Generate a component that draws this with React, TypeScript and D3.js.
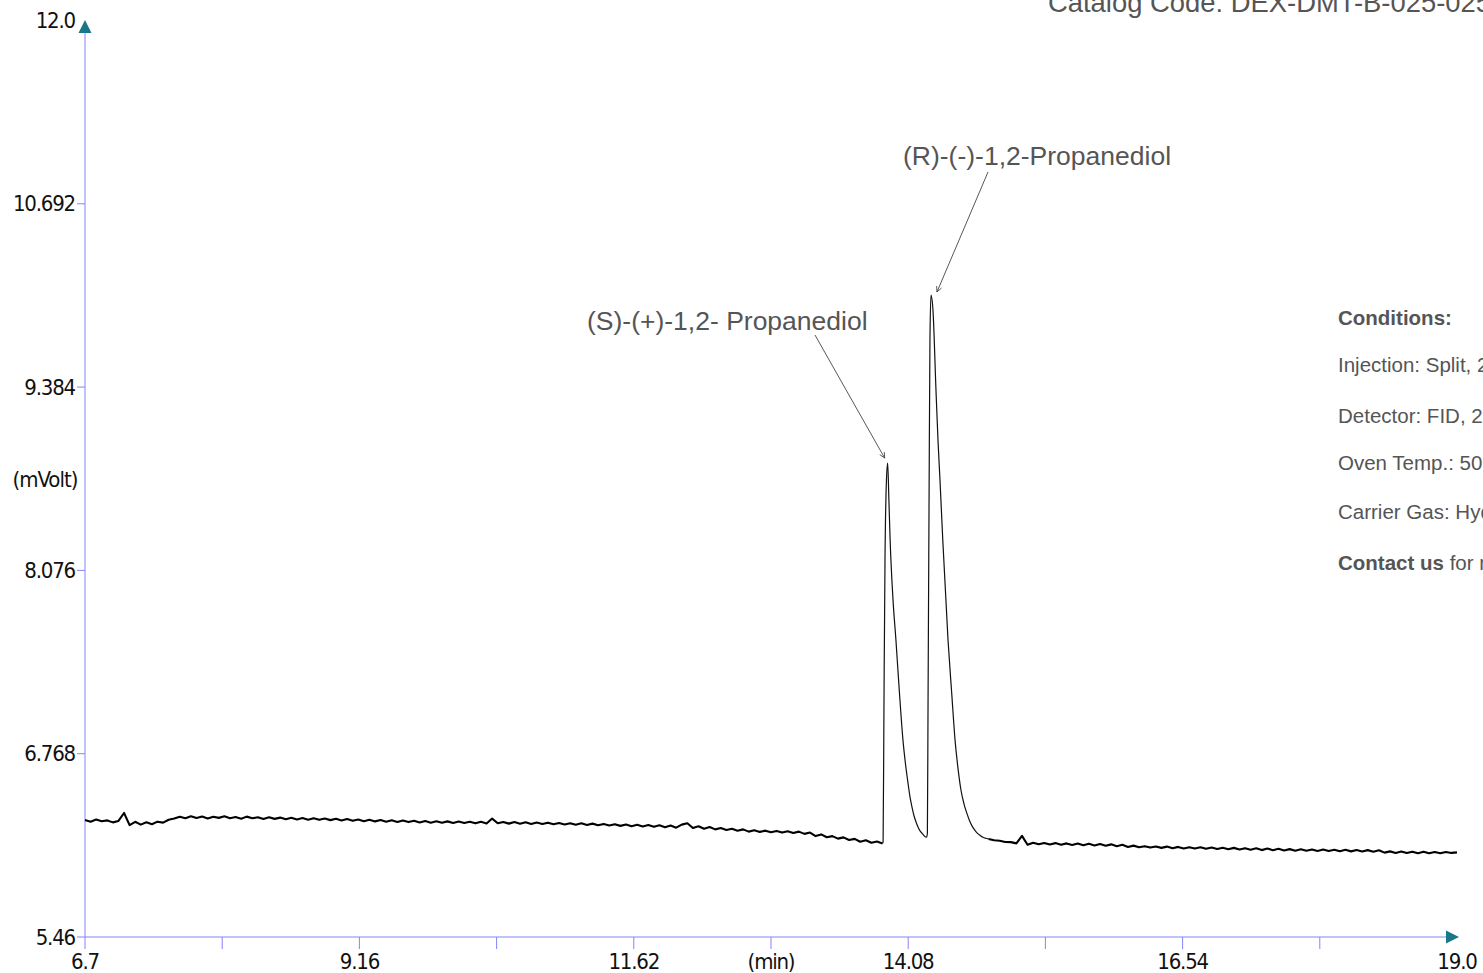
import React from 'react';
import * as d3 from 'd3';

// ---- data ----
const xTickValues = [6.7, 7.93, 9.16, 10.39, 11.62, 12.85, 14.08, 15.31, 16.54, 17.77, 19.0];
const xTickLabels = ['6.7', '', '9.16', '', '11.62', '(min)', '14.08', '', '16.54', '', '19.0'];
const yTickValues = [5.46, 6.768, 8.076, 9.384, 10.692, 12.0];
const yTickLabels = ['5.46', '6.768', '8.076', '9.384', '10.692', '12.0'];

// sampled baseline before the peaks (6.70 .. 13.85 min)
const baselineBeforeSpan = [6.7, 13.85];
const baselineBefore = [
  6.295, 6.283, 6.298, 6.286, 6.292, 6.278, 6.288, 6.345, 6.258, 6.282,
  6.262, 6.279, 6.265, 6.283, 6.276, 6.297, 6.305, 6.318, 6.307, 6.322,
  6.309, 6.320, 6.306, 6.318, 6.310, 6.321, 6.308, 6.316, 6.304, 6.319,
  6.307, 6.315, 6.302, 6.314, 6.303, 6.312, 6.300, 6.311, 6.299, 6.309,
  6.297, 6.308, 6.296, 6.306, 6.294, 6.304, 6.291, 6.302, 6.289, 6.298,
  6.286, 6.297, 6.285, 6.295, 6.283, 6.293, 6.281, 6.292, 6.280, 6.290,
  6.277, 6.288, 6.276, 6.286, 6.275, 6.285, 6.274, 6.284, 6.273, 6.283,
  6.271, 6.282, 6.270, 6.305, 6.272, 6.281, 6.269, 6.280, 6.268, 6.279,
  6.267, 6.277, 6.266, 6.276, 6.264, 6.274, 6.263, 6.272, 6.261, 6.271,
  6.259, 6.269, 6.257, 6.267, 6.256, 6.265, 6.253, 6.263, 6.251, 6.261,
  6.249, 6.259, 6.246, 6.257, 6.243, 6.255, 6.240, 6.262, 6.272, 6.238,
  6.250, 6.232, 6.245, 6.228, 6.238, 6.224, 6.232, 6.218, 6.228, 6.212,
  6.222, 6.210, 6.219, 6.207, 6.217, 6.205, 6.215, 6.202, 6.212, 6.196,
  6.205, 6.180, 6.192, 6.172, 6.180, 6.162, 6.171, 6.152, 6.160, 6.140,
  6.150, 6.133, 6.142, 6.128,
];

// the two enantiomer peaks (min, mV)
const peakTimes = [
  13.850, 13.855, 13.863, 13.872, 13.885, 13.896, 13.907, 13.918, 13.944, 13.970,
  14.000, 14.033, 14.055, 14.078, 14.096, 14.114, 14.132, 14.150, 14.168, 14.186,
  14.205, 14.225, 14.245, 14.252, 14.258, 14.267, 14.275, 14.284, 14.302, 14.329,
  14.347, 14.365, 14.390, 14.437, 14.470, 14.500, 14.527, 14.553, 14.580, 14.607,
  14.630, 14.652, 14.675, 14.697, 14.725, 14.750, 14.775, 14.800,
];
const peakValues = [
  6.128, 6.140, 7.152, 8.150, 8.720, 8.842, 8.578, 8.293, 7.864, 7.579,
  7.220, 6.865, 6.700, 6.560, 6.460, 6.387, 6.325, 6.281, 6.245, 6.217,
  6.200, 6.180, 6.172, 6.200, 7.152, 8.578, 9.720, 10.041, 9.934, 9.363,
  9.006, 8.720, 8.293, 7.579, 7.200, 6.865, 6.660, 6.509, 6.410, 6.340,
  6.290, 6.253, 6.225, 6.203, 6.185, 6.172, 6.165, 6.160,
];

// sampled baseline after the peaks (14.80 .. 19.00 min)
const baselineAfterSpan = [14.8, 19.0];
const baselineAfter = [
  6.160, 6.150, 6.147, 6.138, 6.137, 6.128, 6.182, 6.118, 6.133, 6.122,
  6.131, 6.120, 6.130, 6.118, 6.128, 6.116, 6.127, 6.115, 6.125, 6.113,
  6.124, 6.111, 6.121, 6.108, 6.118, 6.102, 6.112, 6.100, 6.108, 6.098,
  6.106, 6.096, 6.105, 6.093, 6.103, 6.092, 6.101, 6.091, 6.100, 6.089,
  6.099, 6.088, 6.097, 6.086, 6.096, 6.084, 6.094, 6.083, 6.093, 6.080,
  6.091, 6.079, 6.089, 6.077, 6.087, 6.076, 6.086, 6.075, 6.085, 6.074,
  6.084, 6.073, 6.083, 6.072, 6.082, 6.071, 6.081, 6.070, 6.080, 6.069,
  6.079, 6.062, 6.071, 6.060, 6.070, 6.059, 6.069, 6.058, 6.068, 6.057,
  6.067, 6.058, 6.066, 6.060, 6.064,
];

const peakLabels = ['(S)-(+)-1,2- Propanediol', '(R)-(-)-1,2-Propanediol'];
const peakApexTimes = [13.896, 14.284];
const peakApexValues = [8.842, 10.041];

const catalogText = 'Catalog Code: DEX-DMT-B-025-025-GC';
const conditionLines = [
  'Injection: Split, 250 °C',
  'Detector: FID, 250 °C',
  'Oven Temp.: 50 °C to 200 °C',
  'Carrier Gas: Hydrogen',
];

const AXIS = '#8585f5';
const ARROW = '#18788a';
const TEXT = '#555555';
const TICKFONT = "'Liberation Sans Narrow', 'DejaVu Sans Condensed', 'Liberation Sans', sans-serif";
const FONT = "'Liberation Sans', Arial, Helvetica, sans-serif";

function sampled(values: number[], span: number[]): [number, number][] {
  const n = values.length;
  return values.map((v, i) => [span[0] + (i * (span[1] - span[0])) / (n - 1), v]);
}

export default function App() {
  const W = 1483;
  const H = 973;
  const x = d3.scaleLinear().domain([6.7, 19.0]).range([85, 1457]);
  const y = d3.scaleLinear().domain([5.46, 12.0]).range([937, 20.5]);

  const before = sampled(baselineBefore, baselineBeforeSpan);
  const after = sampled(baselineAfter, baselineAfterSpan);
  const peaks = peakTimes.map((t, i) => [t, peakValues[i]] as [number, number]);

  const line = d3
    .line<[number, number]>()
    .x((d) => x(d[0]))
    .y((d) => y(d[1]));
  const smooth = d3
    .line<[number, number]>()
    .x((d) => x(d[0]))
    .y((d) => y(d[1]))
    .curve(d3.curveMonotoneX);

  const x0 = x(6.7);
  const y0 = y(5.46);

  // annotation geometry
  const annStarts = [
    [815, 335],
    [988, 172],
  ];
  const annTips = [
    [x(peakApexTimes[0]) - 3, y(peakApexValues[0]) - 5],
    [x(peakApexTimes[1]) + 6, y(peakApexValues[1]) - 3],
  ];
  const annText = [
    [587, 330],
    [903, 165],
  ];

  const arrowHead = (s: number[], t: number[]) => {
    const a = Math.atan2(t[1] - s[1], t[0] - s[0]);
    const L = 6;
    const w = 0.45;
    const p1 = [t[0] - L * Math.cos(a - w), t[1] - L * Math.sin(a - w)];
    const p2 = [t[0] - L * Math.cos(a + w), t[1] - L * Math.sin(a + w)];
    return `M${p1[0]},${p1[1]}L${t[0]},${t[1]}L${p2[0]},${p2[1]}`;
  };

  return (
    <svg
      width={W}
      height={H}
      style={{ position: 'absolute', left: 0, top: 0, background: '#fff', overflow: 'hidden' }}
    >
      {/* header */}
      <text x={1048} y={12} fontFamily={FONT} fontSize={27.4} fill={TEXT}>
        {catalogText}
      </text>

      {/* conditions */}
      <text x={1338} y={325} fontFamily={FONT} fontSize={20.5} fontWeight="bold" fill={TEXT}>
        Conditions:
      </text>
      {conditionLines.map((c, i) => (
        <text key={c} x={1338} y={[372, 423, 470, 519][i]} fontFamily={FONT} fontSize={20.5} fill={TEXT}>
          {c}
        </text>
      ))}
      <text x={1338} y={570} fontFamily={FONT} fontSize={20.5} fill={TEXT}>
        <tspan fontWeight="bold">Contact us</tspan> for more information
      </text>

      {/* axes */}
      <line x1={x0} y1={y0 + 12} x2={x0} y2={26} stroke={AXIS} strokeWidth={1} />
      <line x1={x0} y1={y0} x2={1450} y2={y0} stroke={AXIS} strokeWidth={1} />
      <path d={`M${x0},${20}L${x0 + 6.5},${33}L${x0 - 6.5},${33}Z`} fill={ARROW} />
      <path d={`M${1459},${y0}L${1446},${y0 - 6.5}L${1446},${y0 + 6.5}Z`} fill={ARROW} />

      {yTickValues.map((v, i) => (
        <g key={'y' + i}>
          {i < yTickValues.length - 1 && (
            <line x1={x0 - 8} x2={x0} y1={y(v)} y2={y(v)} stroke={AXIS} strokeWidth={1} />
          )}
          <text
            x={x0 - 10}
            y={y(v) + 7.5}
            textAnchor="end"
            fontFamily={TICKFONT}
            fontSize={22}
            letterSpacing={-1.2}
            fill="#111"
          >
            {yTickLabels[i]}
          </text>
        </g>
      ))}
      <text x={45} y={487} textAnchor="middle" fontFamily={TICKFONT} fontSize={22} letterSpacing={-1} fill="#111">
        (mVolt)
      </text>

      {xTickValues.map((v, i) => (
        <g key={'x' + i}>
          {i > 0 && i < xTickValues.length - 1 && (
            <line x1={x(v)} x2={x(v)} y1={y0} y2={y0 + 12} stroke={AXIS} strokeWidth={1} />
          )}
          <text
            x={x(v)}
            y={969}
            textAnchor="middle"
            fontFamily={TICKFONT}
            fontSize={22}
            letterSpacing={-1.2}
            fill="#111"
          >
            {xTickLabels[i]}
          </text>
        </g>
      ))}

      {/* chromatogram */}
      <path d={line(before) || ''} fill="none" stroke="#000" strokeWidth={2.1} strokeLinejoin="round" />
      <path d={line(after) || ''} fill="none" stroke="#000" strokeWidth={2.1} strokeLinejoin="round" />
      <path d={smooth(peaks) || ''} fill="none" stroke="#111" strokeWidth={1.2} strokeLinejoin="round" />

      {/* peak annotations */}
      {peakLabels.map((lab, i) => (
        <g key={lab}>
          <text x={annText[i][0]} y={annText[i][1]} fontFamily={FONT} fontSize={26.5} fill={TEXT}>
            {lab}
          </text>
          <line
            x1={annStarts[i][0]}
            y1={annStarts[i][1]}
            x2={annTips[i][0]}
            y2={annTips[i][1]}
            stroke="#444"
            strokeWidth={0.9}
          />
          <path d={arrowHead(annStarts[i], annTips[i])} fill="none" stroke="#444" strokeWidth={0.9} />
        </g>
      ))}
    </svg>
  );
}
